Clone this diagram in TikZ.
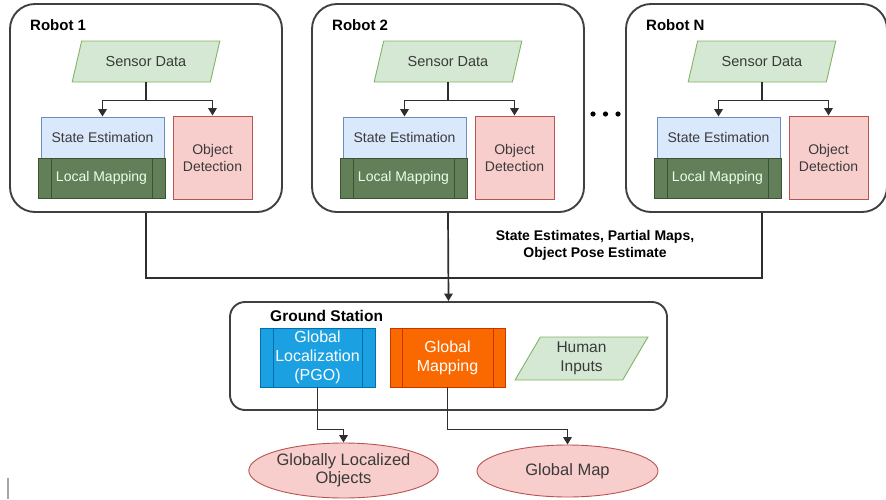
\documentclass[tikz,border=0pt]{standalone}
\usepackage{fontspec}
\setmainfont{Liberation Sans}
\usetikzlibrary{shapes.geometric,arrows.meta}

\definecolor{framegray}{HTML}{404040}
\definecolor{linegray}{HTML}{2E2E2E}
\definecolor{textgray}{HTML}{3A3A3A}
\definecolor{datafill}{HTML}{D5E8D4}
\definecolor{datastroke}{HTML}{82B366}
\definecolor{estfill}{HTML}{DAE8FC}
\definecolor{eststroke}{HTML}{6C8EBF}
\definecolor{mapfill}{HTML}{627F59}
\definecolor{mapstroke}{HTML}{3A5431}
\definecolor{detfill}{HTML}{F8CECC}
\definecolor{detstroke}{HTML}{B85450}
\definecolor{locfill}{HTML}{1BA1E2}
\definecolor{locstroke}{HTML}{006EAF}
\definecolor{gmfill}{HTML}{FA6800}
\definecolor{gmstroke}{HTML}{C73500}

\begin{document}
\begin{tikzpicture}[x=1pt,y=-1pt,
  robotbox/.style={draw=framegray, line width=1.9pt, rounded corners=25pt,
    minimum width=272pt, minimum height=208pt, inner sep=0pt},
  stationbox/.style={draw=framegray, line width=1.9pt, rounded corners=15pt,
    minimum width=437pt, minimum height=108pt, inner sep=0pt},
  title/.style={font=\bfseries\fontsize{15}{17}\selectfont, text=black,
    anchor=west, inner sep=0pt},
  datashape/.style={trapezium, trapezium left angle=#1, trapezium right angle=180-#1,
    trapezium stretches=true, draw=datastroke, fill=datafill, line width=0.9pt,
    text=textgray, inner sep=0pt, align=center},
  estbox/.style={rectangle, draw=eststroke, fill=estfill, line width=0.9pt,
    text=textgray, minimum width=123pt, minimum height=41pt, inner sep=0pt,
    font=\fontsize{14}{17}\selectfont},
  process/.style 2 args={rectangle, draw=#1, line width=0.9pt, inner sep=0pt, align=center,
    path picture={
      \draw[#1, line width=0.9pt]
        ([xshift=#2]path picture bounding box.north west) --
        ([xshift=#2]path picture bounding box.south west)
        ([xshift=-#2]path picture bounding box.north east) --
        ([xshift=-#2]path picture bounding box.south east);}},
  mapbox/.style={process={mapstroke}{13pt}, fill=mapfill, text=white!92!green,
    minimum width=127pt, minimum height=40pt, font=\fontsize{14}{17}\selectfont},
  detbox/.style={rectangle, draw=detstroke, fill=detfill, line width=0.9pt,
    text=textgray, minimum width=79pt, minimum height=83pt, inner sep=0pt,
    align=center, font=\fontsize{14}{17}\selectfont},
  result/.style={ellipse, draw=detstroke, fill=detfill, line width=0.9pt,
    text=textgray, inner sep=0pt, align=center, font=\fontsize{16.5}{18}\selectfont},
  link/.style={draw=linegray, line width=1.7pt},
  arrowlink/.style={link, -{Triangle[length=7.5pt,width=8.5pt]}}
]
\useasboundingbox (0,0) rectangle (886,499);
\clip (0,0) rectangle (886,499);

% one robot: frame, title, sensor input and the on-board modules
\foreach \dx/\id/\name/\w/\cx in {0/a/Robot 1/272/146, 302/b/Robot 2/272/448, 616/n/Robot N/261/756.5}{
  \node[robotbox, minimum width=\w pt] (robot\id) at (\cx,108) {};
  \node[title] (title\id) at (30+\dx,25) {\name};
  \node[datashape=60, minimum width=148pt, minimum height=41pt,
        font=\fontsize{14.5}{17}\selectfont] (sensor\id) at (146+\dx,61.5) {Sensor Data};
  \node[estbox] (est\id) at (102.5+\dx,137.5) {State Estimation};
  \node[mapbox] (map\id) at (101.5+\dx,178) {Local Mapping};
  \node[detbox] (det\id) at (212.5+\dx,157.5) {Object\\Detection};
  \draw[arrowlink] (sensor\id.south) -- ++(0,18) -| (est\id.north);
  \draw[arrowlink] (sensor\id.south) -- ++(0,18) -| (det\id.north);
}

% ellipsis between the second and the last robot
\node[inner sep=0pt, minimum size=1pt] (more) at (605.5,114) {};
\foreach \x in {-12.5,0,12.5}
  \fill[black] ([xshift=\x pt]more.center) circle (2.6pt);

% ground station
\node[stationbox] (station) at (448.5,356) {};
\node[title, font=\bfseries\fontsize{15.5}{17}\selectfont] (stationtitle) at (270,316) {Ground Station};
\node[process={locstroke}{13pt}, fill=locfill, text=white, minimum width=115pt,
      minimum height=59pt, font=\fontsize{16}{19}\selectfont] (gloc) at (317.5,357.5)
      {Global\\Localization\\(PGO)};
\node[process={gmstroke}{12pt}, fill=gmfill, text=white, minimum width=115pt,
      minimum height=59pt, font=\fontsize{16}{19}\selectfont] (gmap) at (447.5,357.5)
      {Global\\Mapping};
\node[datashape=65, minimum width=133pt, minimum height=43pt,
      font=\fontsize{15.5}{19}\selectfont] (human) at (581.5,358.5) {Human\\Inputs};

% outputs
\node[result, minimum width=183pt, minimum height=55pt] (objects) at (343.5,470.5)
      {Globally Localized\\Objects};
\node[result, minimum width=181pt, minimum height=52pt] (globalmap) at (567.5,471)
      {Global Map};

% robots to ground station
\coordinate (bus) at (448,278);
\draw[link] (robota.south) |- (bus);
\draw[link] ([xshift=5.5pt]robotn.south) |- (bus);
\draw[arrowlink] (robotb.south) -- (station.north);
\node[font=\bfseries\fontsize{14}{17}\selectfont, text=black, align=center, inner sep=0pt]
  (payload) at (595,245) {State Estimates, Partial Maps,\\Object Pose Estimate};

% ground station to outputs
\draw[arrowlink] (gloc.south) -- ++(0,42) -| (objects.north);
\draw[arrowlink] (gmap.south) -- ++(0,42) -| (globalmap.north);

% thin mark at the lower left edge
\draw[gray!70, line width=1.5pt] (8,478) -- (8,499);
\end{tikzpicture}
\end{document}
